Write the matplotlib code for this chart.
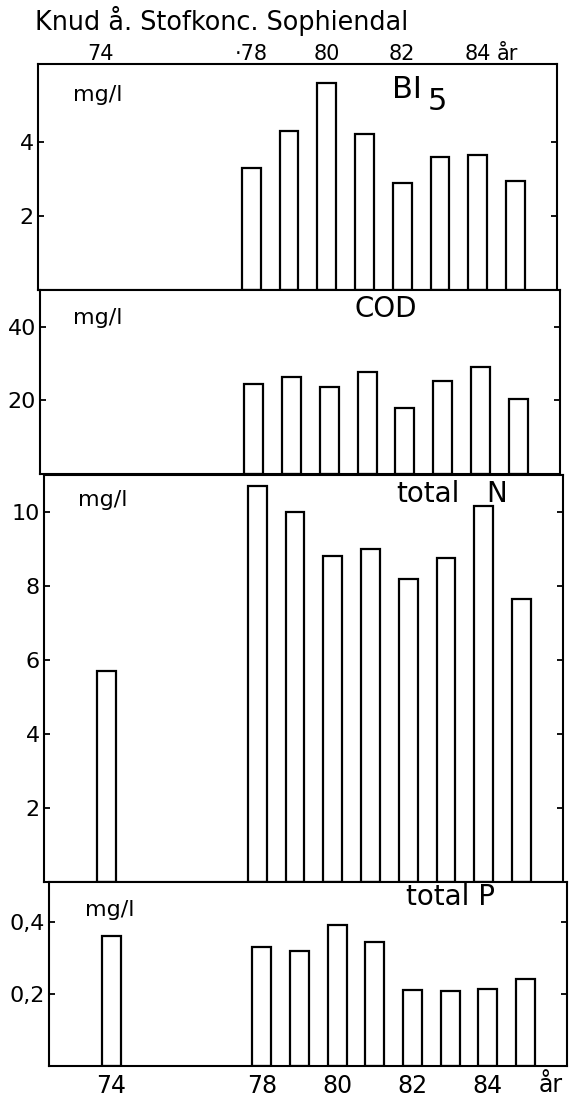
import matplotlib
matplotlib.use("Agg")
import matplotlib.pyplot as plt

# data (concentration, mg/l)
years_late = [78, 79, 80, 81, 82, 83, 84, 85]
years_all = [74, 78, 79, 80, 81, 82, 83, 84, 85]
bi5 = [3.3, 4.3, 5.6, 4.2, 2.9, 3.6, 3.65, 2.95]
cod = [24.4, 26.3, 23.6, 27.7, 17.8, 25.2, 29.0, 20.3]
total_n = [5.7, 10.7, 10.0, 8.8, 9.0, 8.2, 8.75, 10.15, 7.65]
total_p = [0.36, 0.33, 0.32, 0.39, 0.345, 0.21, 0.208, 0.213, 0.24]

year_ticks = [74, 78, 80, 82, 84]
top_labels = ["74", "·78", "80", "82", "84"]
bottom_labels = ["74", "78", "80", "82", "84"]

W, H = 571, 1099
plt.rcParams["font.family"] = ["DejaVu Sans"]

fig = plt.figure(figsize=(W / 100, H / 100), dpi=100)


def rect(l, r, t, b):
    return [l / W, 1 - b / H, (r - l) / W, (b - t) / H]


def px(x, y):
    return x / W, 1 - y / H


def panel(box, x, y, ylim, yticks, yticklabels):
    ax = fig.add_axes(rect(*box))
    ax.bar(x, y, width=0.5, facecolor="white", edgecolor="black", linewidth=1.6)
    ax.set_xlim(72.35, 86.1)
    ax.set_ylim(*ylim)
    ax.set_yticks(yticks)
    ax.set_yticklabels(yticklabels, fontsize=16)
    ax.tick_params(axis="y", direction="in", length=4, width=1.3,
                   right=True, pad=3)
    ax.set_xticks([])
    for s in ax.spines.values():
        s.set_linewidth(1.5)
    return ax


ax1 = panel((38, 557, 64, 290), years_late, bi5, (0, 6.1), [2, 4], ["2", "4"])
ax2 = panel((40, 560, 290, 474), years_late, cod, (0, 50), [20, 40], ["20", "40"])
ax3 = panel((44, 563, 475, 882), years_all, total_n, (0, 11),
            [2, 4, 6, 8, 10], ["2", "4", "6", "8", "10"])
ax4 = panel((49, 567, 882, 1066), years_all, total_p, (0, 0.51),
            [0.2, 0.4], ["0,2", "0,4"])

# year labels on top and bottom
ax1.xaxis.tick_top()
ax1.set_xticks(year_ticks)
ax1.set_xticklabels(top_labels, fontsize=15)
ax1.tick_params(axis="x", length=0, pad=0)
fig.text(*px(507, 60), "år", fontsize=15, ha="center", va="baseline")

ax4.set_xticks(year_ticks)
ax4.set_xticklabels(bottom_labels, fontsize=17)
ax4.tick_params(axis="x", length=0, pad=6)
fig.text(*px(551, 1092), "år", fontsize=17, ha="center", va="baseline")

fig.text(*px(35, 30), "Knud å. Stofkonc. Sophiendal", fontsize=18.4,
         ha="left", va="baseline")

# unit labels
for x, y in [(98, 95), (98, 318), (103, 500), (110, 910)]:
    fig.text(*px(x, y), "mg/l", fontsize=16, ha="center", va="center")

# parameter names
fig.text(*px(407, 90), "BI", fontsize=22, ha="center", va="center")
fig.text(*px(437, 102), "5", fontsize=22, ha="center", va="center")
fig.text(*px(386, 309), "COD", fontsize=20, ha="center", va="center")
fig.text(*px(428, 494), "total", fontsize=20, ha="center", va="center")
fig.text(*px(497, 494), "N", fontsize=20, ha="center", va="center")
fig.text(*px(450, 897), "total P", fontsize=20, ha="center", va="center")

fig.savefig("out.png", dpi=100)
